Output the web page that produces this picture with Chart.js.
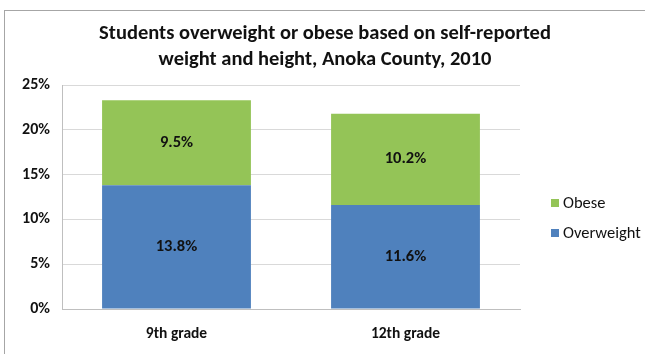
<!DOCTYPE html>
<html>
<head>
<meta charset="utf-8">
<script src="https://cdn.jsdelivr.net/npm/chart.js@4"></script>
<style>
  html, body { margin: 0; padding: 0; background: #fff; }
  #wrap { position: relative; width: 645px; height: 354px; }
</style>
</head>
<body>
<div id="wrap"><canvas id="chart" width="645" height="354"></canvas></div>
<script>
// ── DATA ──
const grades = ['9th grade', '12th grade'];
const overweight = [13.8, 11.6];
const obese = [9.5, 10.2];
const yTicks = [0, 5, 10, 15, 20, 25];
const titleLines = ['Students overweight or obese based on self-reported', 'weight and height, Anoka County, 2010'];

const FONT = "Carlito, Calibri, Lato, 'Liberation Sans', sans-serif";
const BLUE = '#4F81BD';
const GREEN = '#94C457';

// frame, title, legend, bar labels
const decor = {
    id: 'decor',
    beforeDraw(chart) {
        const ctx = chart.ctx;
        ctx.save();
        ctx.fillStyle = '#fff';
        ctx.fillRect(0, 0, chart.width, chart.height);
        ctx.strokeStyle = '#a6a6a6';
        ctx.lineWidth = 1;
        ctx.strokeRect(4.5, 10.5, 700, 400);
        ctx.restore();
    },
    afterDraw(chart) {
        const ctx = chart.ctx;
        ctx.save();
        ctx.fillStyle = '#111';
        ctx.textAlign = 'center';
        ctx.textBaseline = 'middle';
        ctx.font = 'bold 20.5px ' + FONT;
        ctx.fillText(titleLines[0], 325, 34);
        ctx.fillText(titleLines[1], 325, 60);

        // legend
        const items = [{ t: 'Obese', c: GREEN, y: 203 }, { t: 'Overweight', c: BLUE, y: 233 }];
        ctx.textAlign = 'left';
        ctx.font = '16.5px ' + FONT;
        items.forEach(it => {
            ctx.fillStyle = it.c;
            ctx.fillRect(551, it.y - 4, 8, 8);
            ctx.fillStyle = '#111';
            ctx.fillText(it.t, 563, it.y + 1);
        });

        // value labels
        ctx.textAlign = 'center';
        ctx.font = 'bold 16.5px ' + FONT;
        chart.data.datasets.forEach((ds, di) => {
            chart.getDatasetMeta(di).data.forEach((bar, i) => {
                const mid = (bar.y + bar.base) / 2;
                ctx.fillText(ds.data[i].toFixed(1) + '%', bar.x, mid);
            });
        });
        ctx.restore();
    }
};

new Chart(document.getElementById('chart'), {
    type: 'bar',
    data: {
        labels: grades,
        datasets: [
            { label: 'Overweight', data: overweight, backgroundColor: BLUE },
            { label: 'Obese', data: obese, backgroundColor: GREEN }
        ]
    },
    options: {
        responsive: false,
        animation: false,
        layout: { padding: { top: 85, right: 125, left: 0, bottom: 0 } },
        plugins: { legend: { display: false }, title: { display: false }, tooltip: { enabled: false } },
        datasets: { bar: { categoryPercentage: 0.65, barPercentage: 1 } },
        scales: {
            x: {
                stacked: true,
                grid: { display: false, drawTicks: false },
                border: { color: '#bfbfbf', width: 1 },
                ticks: { color: '#111', padding: 16, font: { family: FONT, size: 15.5, weight: 'bold' } },
                afterFit: s => { s.height = 45; }
            },
            y: {
                stacked: true,
                min: 0, max: 25,
                afterBuildTicks: s => { s.ticks = yTicks.map(v => ({ value: v })); },
                grid: { color: '#d9d9d9', drawTicks: false },
                border: { color: '#bfbfbf', width: 1 },
                ticks: {
                    color: '#111', padding: 12,
                    font: { family: FONT, size: 16, weight: 'bold' },
                    callback: v => v + '%'
                },
                afterFit: s => { s.width = 62; }
            }
        }
    },
    plugins: [decor]
});
</script>
</body>
</html>
